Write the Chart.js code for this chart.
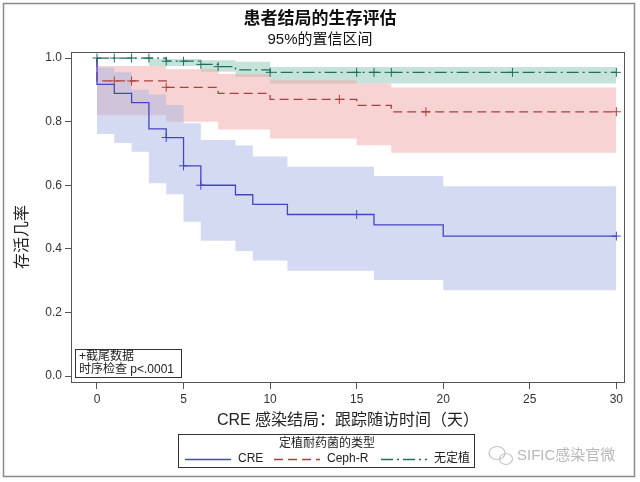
<!DOCTYPE html>
<html>
<head>
<meta charset="utf-8">
<script src="https://cdn.jsdelivr.net/npm/chart.js@4.4.1/dist/chart.umd.min.js"></script>
<style>
  html, body { margin: 0; padding: 0; background: #fff; }
  canvas { display: block; }
</style>
</head>
<body>
<canvas id="km" width="640" height="482"></canvas>
<script>
// axis ticks
const xTicks = [0, 5, 10, 15, 20, 25, 30]
const yTicks = [0, 0.2, 0.4, 0.6, 0.8, 1.0]

// CRE
const creDays = [0, 0, 1, 2, 3, 4, 5, 6, 8, 9, 11, 16, 20, 30]
const creSurv = [1, 0.917, 0.889, 0.86, 0.777, 0.75, 0.661, 0.60, 0.57, 0.54, 0.508, 0.475, 0.44, 0.44]
const creCiDays = [0, 1, 2, 3, 4, 5, 6, 8, 9, 11, 16, 20, 30]
const creUpper = [0.97, 0.955, 0.90, 0.885, 0.852, 0.795, 0.742, 0.725, 0.69, 0.658, 0.629, 0.597, 0.597]
const creLower = [0.761, 0.733, 0.705, 0.606, 0.572, 0.485, 0.425, 0.393, 0.363, 0.331, 0.302, 0.27, 0.27]
const creCensor = [4, 5, 6, 15, 30]

// Ceph-R
const cephDays = [0, 0, 4, 7, 10, 15, 17, 30]
const cephSurv = [1, 0.928, 0.908, 0.889, 0.87, 0.851, 0.831, 0.831]
const cephCiDays = [0, 4, 7, 10, 15, 17, 30]
const cephUpper = [0.975, 0.965, 0.95, 0.93, 0.92, 0.907, 0.907]
const cephLower = [0.82, 0.80, 0.775, 0.747, 0.726, 0.702, 0.702]
const cephCensor = [1, 2, 4, 14, 19, 30]

// 无定植
const noneDays = [0, 4, 6, 7, 8, 10, 30]
const noneSurv = [1, 0.99, 0.98, 0.973, 0.963, 0.955, 0.955]
const noneCiDays = [0, 3, 6, 8, 10, 30]
const noneUpper = [1, 0.997, 0.993, 0.988, 0.972, 0.972]
const noneLower = [1, 0.975, 0.957, 0.94, 0.92, 0.92]
const noneCensor = [0, 1, 2, 3, 4, 5, 6, 7, 10, 15, 16, 17, 24, 30]

const blue = '#4347c4'
const red = '#b0403a'
const green = '#1d6e5c'
const redDash = [9, 5]
const greenDash = [12, 4, 2, 4]
const fontFam = '"Liberation Sans", Arial, "Noto Sans CJK SC", sans-serif'

const pts = (xs, ys) => xs.map((x, i) => ({x: x, y: ys[i]}))
const stepAt = (xs, ys, d) => {
    let v = ys[0]
    xs.forEach((x, i) => { if (x <= d) v = ys[i] })
    return v
}

const band = (xs, up, lo, color) => [
    {data: pts(xs, up), fill: '+1', backgroundColor: color, borderColor: 'transparent', borderWidth: 0, pointRadius: 0, stepped: true, order: 3},
    {data: pts(xs, lo), fill: false, borderColor: 'transparent', borderWidth: 0, pointRadius: 0, stepped: true, order: 3}
]
const curve = (xs, ys, color, dash) => ({
    data: pts(xs, ys), borderColor: color, borderWidth: 1.3, borderDash: dash, pointRadius: 0, stepped: true, fill: false, order: 1
})
const marks = (cs, xs, ys, color) => ({
    data: cs.map(d => ({x: d, y: stepAt(xs, ys, d)})), showLine: false, pointStyle: 'cross',
    pointRadius: 4.5, borderColor: color, borderWidth: 1, order: 0
})

const decor = {
    id: 'decor',
    afterDraw(chart) {
        const {ctx, chartArea: a} = chart
        ctx.save()
        // outer frame
        ctx.strokeStyle = '#8a8a8a'
        ctx.lineWidth = 1.5
        ctx.strokeRect(3.5, 3.5, 631, 473)
        // plot frame
        ctx.strokeStyle = '#555'
        ctx.lineWidth = 1
        ctx.strokeRect(a.left + 0.5, a.top + 0.5, a.right - a.left - 1, a.bottom - a.top - 1)

        ctx.fillStyle = '#111'
        ctx.textAlign = 'center'
        ctx.textBaseline = 'middle'
        ctx.font = 'bold 17px "Noto Sans CJK SC", sans-serif'
        ctx.fillText('患者结局的生存评估', 320, 18)
        ctx.font = '15px ' + fontFam
        ctx.fillText('95%的置信区间', 320, 40)

        ctx.fillStyle = '#222'
        ctx.font = '16px ' + fontFam
        ctx.fillText('CRE 感染结局：跟踪随访时间（天）', (a.left + a.right) / 2, 421)
        ctx.save()
        ctx.translate(23, 237)
        ctx.rotate(-Math.PI / 2)
        ctx.fillText('存活几率', 0, 0)
        ctx.restore()

        // inset box
        ctx.strokeStyle = '#333'
        ctx.strokeRect(75.5, 349.5, 106, 28)
        ctx.textAlign = 'left'
        ctx.font = '12px ' + fontFam
        ctx.fillText('+截尾数据', 79, 357)
        ctx.fillText('时序检查 p<.0001', 79, 370)

        // legend
        ctx.strokeStyle = '#333'
        ctx.strokeRect(178.5, 434.5, 296, 33)
        ctx.textAlign = 'center'
        ctx.font = '12px ' + fontFam
        ctx.fillText('定植耐药菌的类型', 327, 444)
        const items = [
            {x: 185, label: 'CRE', color: blue, dash: []},
            {x: 274, label: 'Ceph-R', color: red, dash: redDash},
            {x: 381, label: '无定植', color: green, dash: greenDash}
        ]
        items.forEach(it => {
            ctx.strokeStyle = it.color
            ctx.lineWidth = 1.3
            ctx.setLineDash(it.dash)
            ctx.beginPath()
            ctx.moveTo(it.x, 459.5)
            ctx.lineTo(it.x + 46, 459.5)
            ctx.stroke()
            ctx.setLineDash([])
            ctx.textAlign = 'left'
            ctx.fillStyle = '#222'
            ctx.fillText(it.label, it.x + 53, 459)
        })

        // watermark
        ctx.fillStyle = '#b8b8b8'
        ctx.font = '15px ' + fontFam
        ctx.fillText('SIFIC感染官微', 517, 456)
        ctx.strokeStyle = '#c4c4c4'
        ctx.lineWidth = 1.2
        ctx.beginPath()
        ctx.ellipse(497, 453, 8, 6.5, 0, 0, Math.PI * 2)
        ctx.stroke()
        ctx.beginPath()
        ctx.ellipse(506, 459, 6.5, 5.5, 0, 0, Math.PI * 2)
        ctx.stroke()
        ctx.restore()
    }
}

new Chart(document.getElementById('km'), {
    type: 'line',
    data: {
        datasets: [
            ...band(creCiDays, creUpper, creLower, 'rgba(170,182,228,0.5)'),
            ...band(cephCiDays, cephUpper, cephLower, 'rgba(242,168,168,0.5)'),
            ...band(noneCiDays, noneUpper, noneLower, 'rgba(140,200,182,0.5)'),
            curve(creDays, creSurv, blue, []),
            curve(cephDays, cephSurv, red, redDash),
            curve(noneDays, noneSurv, green, greenDash),
            marks(creCensor, creDays, creSurv, blue),
            marks(cephCensor, cephDays, cephSurv, red),
            marks(noneCensor, noneDays, noneSurv, green)
        ]
    },
    options: {
        responsive: false,
        animation: false,
        events: [],
        layout: {padding: {left: 0, top: 52, right: 15, bottom: 69}},
        plugins: {legend: {display: false}, tooltip: {enabled: false}},
        scales: {
            x: {
                type: 'linear', min: -1.5, max: 30.5,
                afterBuildTicks: s => { s.ticks = xTicks.map(v => ({value: v})) },
                afterFit: s => { s.height = 30 },
                grid: {drawOnChartArea: false, tickLength: 6, color: '#555'},
                border: {display: false},
                ticks: {padding: 3, color: '#333', font: {size: 12, family: fontFam}, maxRotation: 0}
            },
            y: {
                type: 'linear', min: -0.022, max: 1.019,
                afterBuildTicks: s => { s.ticks = yTicks.map(v => ({value: v})) },
                afterFit: s => { s.width = 71 },
                grid: {drawOnChartArea: false, tickLength: 6, color: '#555'},
                border: {display: false},
                ticks: {padding: 3, color: '#333', font: {size: 12, family: fontFam}, callback: v => v.toFixed(1)}
            }
        }
    },
    plugins: [decor]
})
</script>
</body>
</html>
